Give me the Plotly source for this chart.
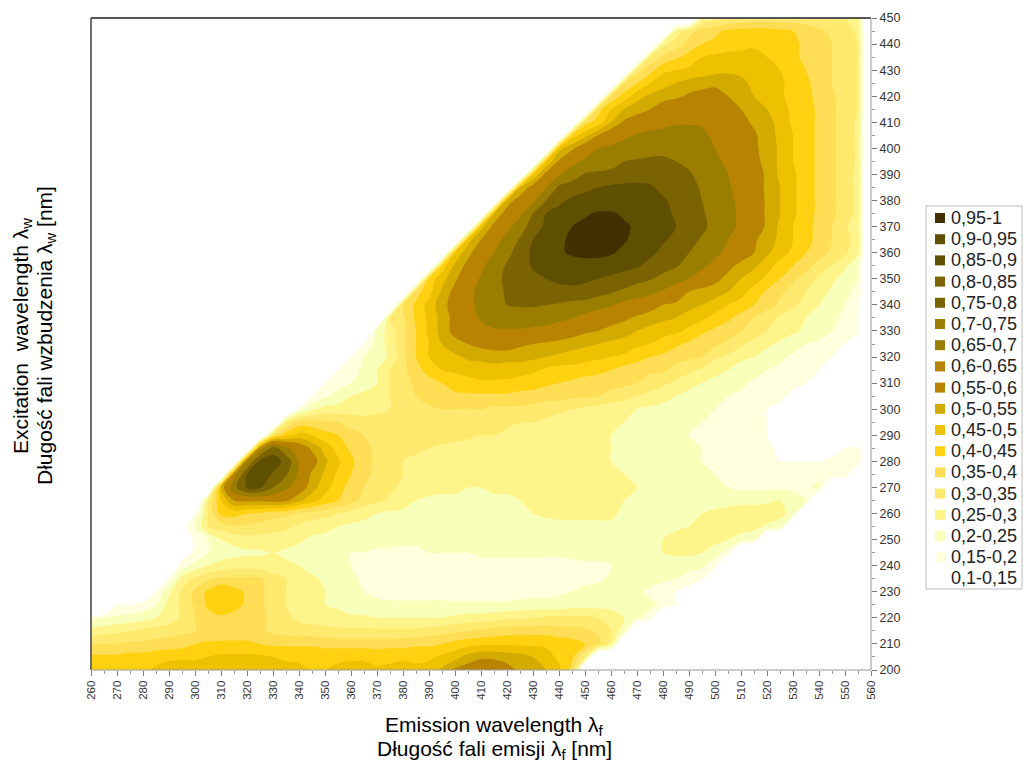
import plotly.graph_objects as go

em = list(range(260, 565, 5))
ex = list(range(200, 455, 5))
tick_em = list(range(260, 570, 10))
tick_ex = list(range(200, 460, 10))
legend_labels = ["0,95-1","0,9-0,95","0,85-0,9","0,8-0,85","0,75-0,8","0,7-0,75","0,65-0,7","0,6-0,65","0,55-0,6",
                 "0,5-0,55","0,45-0,5","0,4-0,45","0,35-0,4","0,3-0,35","0,25-0,3","0,2-0,25","0,15-0,2","0,1-0,15"]
band_colors = ["#433000","#5f4f00","#5f4f00","#7a6300","#7a6300","#9a7e00","#9a7e00","#b88400","#b88400",
               "#d2aa00","#edc000","#ffd110","#ffdd55","#ffe96f","#fff48a","#f8ffb8","#ffffdd","#ffffff"]

# excitation row -> (first emission wavelength with signal, relative intensity in percent)
rows = {
200:(260,[43,43,43,43,44,46,47,48,48,49,50,49,48,48,47,47,46,45,45,46,47,47,46,46,47,46,47,51,56,58,60,59,57,54,52,50,46,38]),
205:(260,[41,41,41,42,42,43,44,44,44,45,46,46,46,46,45,44,44,44,44,44,44,44,43,44,44,44,44,46,48,52,54,54,53,52,50,47,44,41,30]),
210:(260,[35,35,35,36,36,37,37,38,40,41,41,41,41,40,39,39,39,39,38,38,38,38,38,38,38,39,39,40,42,43,44,44,44,44,44,44,43,42,40,37,28]),
215:(260,[27,28,29,30,31,32,33,34,35,36,37,37,37,36,34,33,32,32,32,31,31,31,31,31,31,31,32,33,34,35,36,37,38,38,38,38,37,37,36,34,30,22]),
220:(260,[18,20,21,22,23,25,27,31,35,38,39,38,37,36,34,31,29,28,27,27,26,26,25,25,25,25,25,25,26,27,27,28,29,29,30,31,31,31,31,30,28,25,21,18]),
225:(270,[15,15,17,20,27,31,36,41,44,42,39,36,33,30,28,26,25,24,22,21,21,21,21,21,21,21,21,21,21,21,21,22,22,22,22,23,23,23,23,23,22,21,19,15]),
230:(280,[8,15,24,31,36,41,45,42,39,36,33,30,29,27,25,23,22,20,19,18,18,18,18,18,17,17,17,17,17,17,18,18,19,20,21,22,22,22,21,19,17,15,12]),
235:(285,[8,16,27,31,34,36,36,36,36,32,30,28,26,24,22,21,19,18,17,17,17,17,17,17,17,17,17,17,17,17,18,18,18,19,19,21,22,22,22,21,20,18,16]),
240:(290,[10,17,22,25,27,28,28,28,27,26,25,23,22,21,20,19,18,17,17,17,17,17,17,17,18,18,18,18,18,18,18,18,19,19,20,21,21,22,22,22,22,21,17]),
245:(295,[12,16,20,22,23,24,24,25,24,23,22,22,21,20,20,19,19,19,19,20,20,20,20,21,21,21,21,21,21,21,22,22,22,22,22,22,24,25,26,26,25,22,18]),
250:(295,[10,16,20,25,27,28,28,28,27,26,24,24,23,23,22,22,22,21,21,21,21,21,21,21,22,22,22,22,23,23,23,23,23,23,23,23,24,25,27,28,28,27,25,22,20]),
255:(295,[12,20,30,32,34,34,33,32,31,29,27,26,25,24,24,23,23,22,22,22,22,22,22,22,22,22,23,23,23,24,24,24,24,24,23,23,23,23,24,25,27,28,28,28,27,24,22]),
260:(300,[15,30,42,42,40,39,37,36,34,33,32,30,28,26,25,24,24,23,23,22,22,23,23,23,24,24,25,26,26,26,26,26,26,24,23,23,23,23,24,25,26,27,27,27,28,27,22]),
265:(305,[30,45,55,56,56,57,56,51,47,43,40,37,33,31,29,27,25,24,24,24,24,24,24,24,25,26,26,26,26,26,26,26,25,24,23,23,23,23,23,23,23,24,24,24,25,22,20]),
270:(310,[50,72,86,86,75,67,59,52,47,42,38,35,33,31,29,28,27,26,26,25,25,26,26,26,26,27,27,27,27,27,27,26,25,24,24,23,22,22,21,20,19,19,19,19,19,19,21]),
275:(315,[60,85,90,84,76,63,54,49,44,40,36,34,31,30,29,28,27,27,26,26,26,26,26,26,26,26,27,26,26,26,25,24,23,22,22,21,21,20,19,18,18,17,17,18,18,19,20,19]),
280:(320,[65,87,90,82,64,58,51,46,41,37,34,32,30,29,28,28,28,27,27,27,27,27,26,26,26,26,26,26,25,25,24,23,22,21,21,20,19,19,18,17,16,15,15,15,15,16,17,19]),
285:(325,[60,80,67,60,54,48,43,39,36,34,33,32,31,30,29,29,28,28,28,27,27,27,27,26,26,26,26,25,25,24,23,22,21,21,20,19,18,17,16,16,14,13,13,13,13,15,16]),
290:(330,[35,43,47,45,42,40,37,35,33,33,32,32,32,32,31,31,30,30,29,28,28,27,27,26,26,26,25,25,24,23,22,21,20,20,19,18,17,16,15,14,13,12,11,11,10,10]),
295:(335,[30,37,37,36,35,33,32,32,31,32,32,33,33,33,33,32,32,31,30,30,29,28,28,27,27,26,25,24,23,22,21,21,20,19,18,17,16,15,14,13,12,11,10,10,9]),
300:(340,[18,24,27,27,28,28,29,30,31,33,34,35,35,35,35,34,34,34,33,32,31,30,29,28,27,26,25,24,23,22,21,21,20,19,18,17,15,14,13,12,11,10,10,9]),
305:(345,[15,19,22,25,26,27,30,33,35,37,38,39,39,39,39,39,38,38,37,37,36,36,35,33,32,30,28,27,25,23,22,21,20,19,18,17,16,14,12,11,10,10,9]),
310:(350,[15,18,20,23,25,30,33,36,38,40,42,43,44,44,44,43,42,41,40,39,38,38,37,36,35,33,31,29,27,25,24,22,21,19,18,17,16,15,12,11,10,9]),
315:(355,[15,18,21,25,30,34,38,42,45,46,47,48,48,47,47,46,44,43,43,42,41,40,38,37,36,36,33,31,29,26,25,23,22,20,19,18,16,15,13,11,9]),
320:(360,[15,20,22,26,33,40,45,47,49,51,51,52,52,52,51,50,49,48,47,46,45,44,42,40,39,37,36,35,31,29,26,25,23,21,19,18,16,15,12,10]),
325:(365,[15,22,27,34,40,45,50,53,55,57,58,58,56,55,54,53,52,51,50,49,48,46,45,43,41,39,37,36,34,31,28,26,24,22,20,19,17,15,13]),
330:(370,[22,27,34,40,46,52,57,60,62,64,64,64,63,62,60,58,56,55,53,52,50,48,47,46,44,41,39,37,35,33,30,28,26,24,22,20,17,15]),
335:(375,[30,34,41,46,52,57,61,66,69,70,70,70,69,67,65,62,60,58,56,54,53,51,50,47,46,43,41,38,35,32,29,27,25,23,21,19,15]),
340:(380,[36,41,47,53,58,63,67,72,75,76,76,75,74,72,71,68,66,62,60,57,55,54,52,50,48,45,43,40,37,34,31,28,25,22,20,17]),
345:(385,[38,43,51,57,62,68,72,76,78,80,81,82,82,81,79,76,73,70,67,64,59,55,53,52,50,47,43,39,36,33,30,27,24,21,19]),
350:(390,[42,48,54,60,66,72,77,81,83,85,87,88,87,85,83,81,78,76,72,69,65,60,57,53,50,47,44,40,36,33,29,26,23,20]),
355:(395,[42,51,57,63,70,76,81,86,88,91,92,92,92,90,88,86,82,79,76,71,67,62,57,53,51,47,43,40,37,33,30,26,21]),
360:(400,[46,53,60,65,72,80,87,90,94,96,97,97,96,93,90,87,83,79,75,71,67,63,59,55,51,47,44,40,37,34,31,26]),
365:(405,[48,55,61,68,76,85,90,94,96,97,98,97,96,92,89,86,83,78,74,69,65,61,56,52,49,45,42,38,35,32,27]),
370:(410,[48,57,62,70,80,87,91,95,97,98,98,96,94,91,88,85,81,77,72,68,63,59,54,49,45,42,38,35,31,26]),
375:(415,[50,58,63,75,85,88,91,94,96,96,94,92,90,87,84,80,76,72,68,63,59,54,50,46,42,39,36,33,28]),
380:(420,[52,58,63,75,83,87,88,89,90,92,92,89,86,83,79,75,71,67,63,59,54,50,46,42,39,36,33,28]),
385:(425,[50,58,65,77,80,83,85,87,88,88,86,83,81,78,74,70,66,62,58,54,50,46,42,39,36,33,28]),
390:(430,[45,57,64,70,76,77,77,78,80,82,82,80,76,72,69,65,62,58,54,49,46,42,39,36,33,28]),
395:(435,[45,56,62,67,69,72,75,76,77,77,75,73,70,67,63,60,57,53,49,45,42,39,36,33,29]),
400:(440,[48,54,60,65,67,69,70,71,72,72,71,68,65,62,59,56,53,49,45,42,39,36,33,29]),
405:(445,[42,48,55,60,63,66,68,69,69,69,67,63,60,58,56,52,49,45,42,39,36,33,29]),
410:(450,[38,42,50,56,58,60,62,64,64,64,63,60,57,54,52,48,44,42,39,36,33,29]),
415:(455,[38,45,50,53,55,58,60,61,61,60,58,55,52,50,47,44,42,39,36,33,30]),
420:(460,[36,42,48,51,53,54,56,57,57,55,52,50,48,46,43,41,39,36,33,30]),
425:(465,[35,40,45,48,50,52,53,54,53,51,49,47,46,43,41,38,35,33,30]),
430:(470,[33,38,44,45,46,47,48,49,49,48,47,45,43,40,38,35,33,30]),
435:(475,[31,36,39,42,45,46,47,47,47,45,43,41,39,37,35,33,30]),
440:(480,[28,33,37,40,41,42,43,44,44,43,41,39,37,35,33,30]),
445:(485,[27,33,37,39,41,42,42,42,41,40,38,36,34,32,29]),
450:(495,[25,28,30,31,32,32,32,32,32,31,31,30,26]),
}
z = []
for y in ex:
    first, vals = rows[y]
    start = em.index(first)
    z.append([0]*start + vals + [0]*(len(em)-start-len(vals)))

n = len(band_colors)
rev = band_colors[::-1]
cs = []
for i, c in enumerate(rev):
    cs += [[i/n, c], [(i+1)/n, c]]

fig = go.Figure(go.Contour(x=em, y=ex, z=z, zmin=10, zmax=100, colorscale=cs, showscale=False,
    contours=dict(start=10, end=100, size=5, coloring="fill", showlines=False), line=dict(width=0), hoverinfo="skip"))

W, H = 1024, 762
L, R, T, B = 91, 871, 18, 670   # plot box in window pixels
fig.update_layout(width=W, height=H, autosize=False, margin=dict(l=L, r=W-R, t=T, b=H-B), paper_bgcolor="white", plot_bgcolor="white",
    font=dict(family="Liberation Sans", color="#000"), showlegend=False)
tickf = dict(family="Liberation Sans", size=11.5, color="#333")
fig.update_xaxes(range=[260,560], tickmode="array", tickvals=tick_em, tickangle=-90, tickfont=tickf, ticks="outside", ticklen=5, tickcolor="#777",
    showgrid=False, zeroline=False, showline=False, minor=dict(dtick=5, ticks="outside", ticklen=3, tickcolor="#999", showgrid=False))
fig.update_yaxes(range=[200,450], side="right", tickmode="array", tickvals=tick_ex, tickfont=dict(family="Liberation Sans", size=12.5, color="#333"), ticks="outside", ticklen=5, tickcolor="#777",
    showgrid=False, zeroline=False, showline=False, minor=dict(dtick=5, ticks="outside", ticklen=3, tickcolor="#999", showgrid=False))

def pxa(x): return (x - L) / (R - L)
def pya(y): return (B - y) / (B - T)

shapes = [
    dict(type="line", xref="paper", yref="paper", x0=pxa(L), x1=pxa(L), y0=pya(T), y1=pya(B), line=dict(color="#6e6e6e", width=2)),
    dict(type="line", xref="paper", yref="paper", x0=pxa(L), x1=pxa(R), y0=pya(T), y1=pya(T), line=dict(color="#555", width=2)),
    dict(type="line", xref="paper", yref="paper", x0=pxa(L), x1=pxa(R), y0=pya(B), y1=pya(B), line=dict(color="#999", width=1)),
    dict(type="line", xref="paper", yref="paper", x0=pxa(R), x1=pxa(R), y0=pya(T), y1=pya(B), line=dict(color="#999", width=1)),
    dict(type="rect", xref="paper", yref="paper", x0=pxa(926), x1=pxa(1022), y0=pya(589), y1=pya(206), line=dict(color="#bbb", width=1)),
]
anns = []
for i, (lab, c) in enumerate(zip(legend_labels, band_colors)):
    yc = 218 + i * 21.2
    shapes.append(dict(type="rect", xref="paper", yref="paper", x0=pxa(935), x1=pxa(945), y0=pya(yc+5), y1=pya(yc-5), line=dict(width=0), fillcolor=c))
    anns.append(dict(xref="paper", yref="paper", x=pxa(949), y=pya(yc), text=lab, showarrow=False, xanchor="left", yanchor="middle",
                     font=dict(size=18, color="#222", family="Liberation Sans")))
def title(text, cx, cy, rot=0):
    anns.append(dict(xref="paper", yref="paper", x=pxa(cx), y=pya(cy), text=text, showarrow=False, xanchor="center", yanchor="middle",
                     textangle=rot, font=dict(size=21, color="#000", family="Liberation Sans")))
title("Emission wavelength λ<sub>f</sub>", 494, 726)
title("Długość fali emisji λ<sub>f</sub> [nm]", 494, 749.5)
title("Excitation  wavelength λ<sub>w</sub>", 22, 336, -90)
title("Długość fali wzbudzenia λ<sub>w</sub> [nm]", 46, 336, -90)
fig.update_layout(shapes=shapes, annotations=anns)
fig.write_html("out.html", default_width="1024px", default_height="762px", config=dict(displayModeBar=False),
               post_script="document.documentElement.style.overflow='hidden';document.body.style.margin='0';")
